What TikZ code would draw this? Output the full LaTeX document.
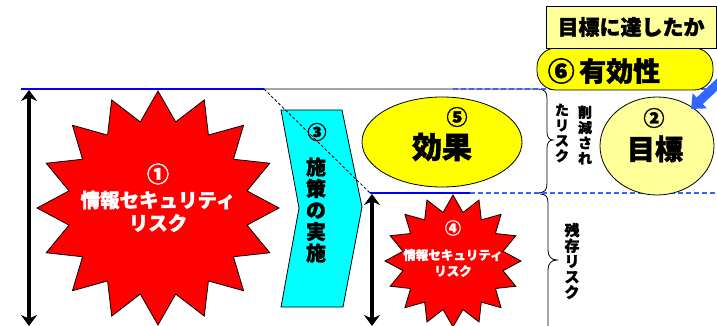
\documentclass[tikz,border=0pt]{standalone}
\usepackage{fontspec}
\newfontfamily\jp{Noto Sans CJK JP}[BoldFeatures={FakeBold=1.5}]
\usetikzlibrary{arrows.meta}
\definecolor{cyanc}{HTML}{00FFFF}
\definecolor{yel}{HTML}{FFFF00}
\definecolor{lyel}{HTML}{FFFF99}
\definecolor{dblue}{HTML}{3366FF}
\definecolor{sblue}{HTML}{0000FF}
\definecolor{starred}{HTML}{FF0000}
\tikzset{
  bluesolid/.style={sblue, line width=2.5pt},
  bluedash/.style={dblue, line width=2pt, dash pattern=on 5pt off 3pt},
  thinline/.style={black, line width=0.8pt},
  dimarrow/.style={line width=3.8pt, {Stealth[length=11pt,width=16pt]}-{Stealth[length=11pt,width=16pt]}},
  starshape/.style={fill=starred, draw=black, line width=0.8pt, line join=miter},
  wtext/.style={text=white, inner sep=0pt},
  btext/.style={text=black, inner sep=0pt, align=center},
}
\begin{document}
\begin{tikzpicture}[x=1pt,y=-1pt,font=\jp\bfseries]
\useasboundingbox (0,0) rectangle (717,326);
% coordinates
\coordinate (tl) at (21,89);
\coordinate (tm) at (264,89);
\coordinate (tb) at (537,89);
\coordinate (td) at (453,89);
\coordinate (tr) at (717,89);
\coordinate (bl) at (370,193);
\coordinate (bm) at (470,193);
\coordinate (br) at (717,193);
\coordinate (a1t) at (29,90);
\coordinate (a1b) at (29,326);
\coordinate (a2t) at (372,194);
\coordinate (a2b) at (372,326);
\coordinate (bat) at (724,78);
\coordinate (bah) at (691,109);
% lines
\draw[bluesolid] (tl) -- (tm);
\draw[thinline] (tm) -- (tb) .. controls (545,89) and (547,92) .. (547,99) -- (547,132)
  .. controls (547,137) and (549,140) .. (553,140) .. controls (549,140) and (547,143) .. (547,148)
  -- (547,183) .. controls (547,190) and (545,193) .. (537,193);
\draw[thinline] (540,194) .. controls (546,194) and (548,197) .. (548,203) -- (548,250)
  .. controls (548,256) and (551,260) .. (557,260) .. controls (551,260) and (548,264) .. (548,270) -- (548,330);
\draw[bluedash] (td) -- (tr);
\draw[bluesolid] (bl) -- (bm);
\draw[bluedash] (bm) -- (br);
% arrows
\draw[dimarrow] (a1t) -- (a1b);
\draw[dimarrow] (a2t) -- (a2b);
% big star 1
\path[starshape] plot[variable=\t, samples at={0,11.25,...,348.75}]
  ({158+cos(90+\t)*121*(1-0.25*mod(round(\t/11.25),2))},
   {208-sin(90+\t)*117*(1-0.25*mod(round(\t/11.25),2))}) -- cycle;
\node[wtext, font=\jp\bfseries\fontsize{22}{22}\selectfont] (n1) at (158,174) {①};
\node[wtext, font=\jp\bfseries\fontsize{19.5}{19.5}\selectfont] (n1a) at (158,200) {情報セキュリティ};
\node[wtext, font=\jp\bfseries\fontsize{19.5}{19.5}\selectfont] (n1b) at (158,223) {リスク};
% chevron 3
\path[fill=cyanc, draw=black, line width=0.8pt] (281,110) -- (342,110) -- (362,207) -- (343,307) -- (281,307) -- (299,208) -- cycle;
\node[btext, font=\jp\bfseries\fontsize{19}{19}\selectfont] (n3) at (317,132) {③};
\node[btext, font=\jp\bfseries\fontsize{20}{21.5}\selectfont] (n3a) at (316,210) {施\\策\\の\\実\\施};
\draw[thinline, dashed, dash pattern=on 3pt off 2pt] (tm) -- (bl);
% small star 4
\path[starshape] plot[variable=\t, samples at={0,11.25,...,348.75}]
  ({453+cos(90+\t)*68*(1-0.25*mod(round(\t/11.25),2))},
   {261-sin(90+\t)*66*(1-0.25*mod(round(\t/11.25),2))}) -- cycle;
\node[wtext, font=\jp\bfseries\fontsize{16}{16}\selectfont] (n4) at (453,228) {④};
\node[wtext, font=\jp\bfseries\fontsize{12.5}{12.5}\selectfont] (n4a) at (453,255) {情報セキュリティ};
\node[wtext, font=\jp\bfseries\fontsize{12.5}{12.5}\selectfont] (n4b) at (453,271) {リスク};
% ellipse 5
\path[fill=yel, draw=black, line width=0.8pt] (442,142) ellipse [x radius=80, y radius=45];
\node[btext, font=\jp\bfseries\fontsize{21}{21}\selectfont] (n5) at (457,117) {⑤};
\node[btext, font=\jp\bfseries\fontsize{30}{30}\selectfont] (n5a) at (442,147) {効果};
% ellipse 2
\path[fill=lyel, draw=black, line width=0.8pt] (657,146) ellipse [x radius=57, y radius=49];
\node[btext, font=\jp\bfseries\fontsize{21}{21}\selectfont] (n2) at (654,118) {②};
\node[btext, font=\jp\bfseries\fontsize{28}{28}\selectfont] (n2a) at (655,149) {目標};
% brace texts
\node[btext, font=\jp\bfseries\fontsize{14}{15.3}\selectfont] (rc1) at (585,135) {削\\減\\さ\\れ};
\node[btext, font=\jp\bfseries\fontsize{14}{15.3}\selectfont] (rc2) at (562,133) {た\\リ\\ス\\ク};
\node[btext, font=\jp\bfseries\fontsize{15}{15.5}\selectfont] (rr) at (572,261) {残\\存\\リ\\ス\\ク};
% blue arrow
\draw[dblue, line width=9pt, -{Triangle[length=12pt,width=20pt]}] (bat) -- (bah);
% box 6
\path[fill=yel, draw=black, line width=0.8pt, rounded corners=19pt] (537,48) rectangle (713,90);
\node[btext, font=\jp\bfseries\fontsize{27}{27}\selectfont] (n6) at (604,71) {⑥\,有効性};
% top box
\node[draw=black, line width=0.8pt, fill=lyel, minimum width=170pt, minimum height=42pt, inner sep=0pt,
  font=\jp\bfseries\fontsize{21}{21}\selectfont] (goal) at (631,27) {目標に達したか};
\end{tikzpicture}
\end{document}
